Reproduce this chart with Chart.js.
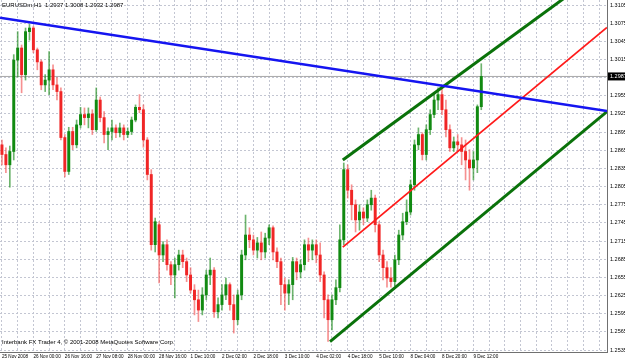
<!DOCTYPE html>
<html>
<head>
<meta charset="utf-8">
<script src="https://cdn.jsdelivr.net/npm/chart.js@4"></script>
<style>
  html, body { margin: 0; padding: 0; background: #fff; }
  #wrap { width: 625px; height: 362px; }
</style>
</head>
<body>
<div id="wrap"><canvas id="myChart"></canvas></div>
<script>
const symbolTitle = 'EURUSDm,H1  1.2937 1.3008 1.2932 1.2987';
const copyright = 'Interbank FX Trader 4, \u00a9 2001-2008 MetaQuotes Software Corp.';

// hours since 25 Nov 2008 (one candle per 2 hours of the H1 chart)
const hours = [
  0, 2, 4, 6, 8, 10, 12, 14, 16, 18, 20, 22, 24, 26, 28, 30, 32, 34, 36, 38,
  40, 42, 44, 46, 48, 50, 52, 54, 56, 58, 60, 62, 64, 66, 68, 70, 72, 74, 76, 78,
  80, 82, 84, 86, 88, 90, 92, 94, 96, 98, 100, 102, 104, 106, 108, 110, 112, 114, 116, 118,
  120, 122, 124, 126, 128, 130, 132, 134, 136, 138, 140, 142, 144, 146, 148, 150, 152, 154, 156, 158,
  160, 162, 164, 166, 168, 170, 172, 174, 176, 178, 180, 182, 184, 186, 188, 190, 192, 194, 196, 198,
  200, 202, 204, 206, 208, 210, 212, 214, 216, 218, 220, 222, 224, 226, 228, 230, 232, 234, 236, 238,
  240, 242, 244
];

const open = [
  1.2874,1.2858,1.2841,1.2863,1.3014,1.3034,1.2990,1.3061,1.3067,1.3031,
  1.3011,1.2973,1.2981,1.2998,1.2973,1.2962,1.2886,1.2830,1.2896,1.2874,
  1.2907,1.2924,1.2919,1.2925,1.2899,1.2948,1.2919,1.2891,1.2896,1.2902,
  1.2894,1.2902,1.2891,1.2896,1.2915,1.2936,1.2932,1.2882,1.2825,1.2709,
  1.2742,1.2692,1.2709,1.2676,1.2659,1.2676,1.2692,1.2681,1.2659,1.2634,
  1.2618,1.2601,1.2626,1.2659,1.2667,1.2598,1.2610,1.2626,1.2643,1.2610,
  1.2585,1.2626,1.2692,1.2725,1.2717,1.2700,1.2712,1.2697,1.2720,1.2737,
  1.2697,1.2681,1.2643,1.2629,1.2643,1.2681,1.2664,1.2676,1.2709,1.2700,
  1.2709,1.2692,1.2659,1.2618,1.2585,1.2618,1.2638,1.2717,1.2833,1.2799,
  1.2775,1.2750,1.2763,1.2753,1.2775,1.2786,1.2742,1.2692,1.2671,1.2654,
  1.2648,1.2684,1.2725,1.2747,1.2763,1.2808,1.2874,1.2891,1.2858,1.2899,
  1.2924,1.2948,1.2957,1.2932,1.2899,1.2869,1.2879,1.2874,1.2863,1.2849,
  1.2836,1.2849,1.2937
];
const high = [
  1.2882,1.2869,1.2872,1.3023,1.3061,1.3039,1.3067,1.3073,1.3070,1.3034,
  1.3014,1.2990,1.3028,1.3006,1.2985,1.2968,1.2891,1.2903,1.2903,1.2915,
  1.2936,1.2935,1.2935,1.2932,1.2968,1.2953,1.2929,1.2902,1.2915,1.2907,
  1.2910,1.2907,1.2902,1.2920,1.2940,1.2957,1.2940,1.2886,1.2833,1.2753,
  1.2747,1.2714,1.2717,1.2681,1.2687,1.2700,1.2700,1.2687,1.2671,1.2643,
  1.2634,1.2638,1.2667,1.2687,1.2671,1.2621,1.2643,1.2654,1.2646,1.2626,
  1.2634,1.2700,1.2758,1.2737,1.2725,1.2721,1.2730,1.2728,1.2742,1.2740,
  1.2704,1.2687,1.2654,1.2651,1.2688,1.2687,1.2684,1.2717,1.2720,1.2717,
  1.2717,1.2712,1.2664,1.2626,1.2626,1.2651,1.2742,1.2844,1.2841,1.2808,
  1.2783,1.2775,1.2770,1.2783,1.2799,1.2791,1.2747,1.2700,1.2681,1.2671,
  1.2692,1.2733,1.2761,1.2783,1.2816,1.2882,1.2902,1.2894,1.2907,1.2932,
  1.2957,1.2968,1.2968,1.2948,1.2907,1.2887,1.2891,1.2886,1.2882,1.2866,
  1.2863,1.2940,1.3008
];
const low = [
  1.2841,1.2828,1.2804,1.2849,1.2986,1.2960,1.2981,1.3047,1.3026,1.2998,
  1.2965,1.2962,1.2957,1.2965,1.2948,1.2882,1.2821,1.2825,1.2866,1.2869,
  1.2902,1.2907,1.2902,1.2891,1.2896,1.2912,1.2877,1.2866,1.2882,1.2886,
  1.2887,1.2882,1.2886,1.2891,1.2912,1.2927,1.2870,1.2816,1.2700,1.2697,
  1.2646,1.2681,1.2667,1.2643,1.2621,1.2667,1.2671,1.2648,1.2629,1.2593,
  1.2582,1.2593,1.2618,1.2643,1.2589,1.2588,1.2601,1.2618,1.2601,1.2563,
  1.2577,1.2618,1.2684,1.2704,1.2692,1.2687,1.2684,1.2687,1.2709,1.2684,
  1.2671,1.2610,1.2601,1.2610,1.2618,1.2651,1.2654,1.2667,1.2681,1.2684,
  1.2679,1.2648,1.2588,1.2549,1.2568,1.2610,1.2631,1.2709,1.2786,1.2750,
  1.2730,1.2733,1.2742,1.2747,1.2766,1.2730,1.2681,1.2651,1.2639,1.2639,
  1.2641,1.2676,1.2717,1.2742,1.2758,1.2799,1.2866,1.2849,1.2849,1.2891,
  1.2919,1.2932,1.2924,1.2887,1.2863,1.2863,1.2863,1.2841,1.2816,1.2799,
  1.2816,1.2828,1.2932
];
const close = [
  1.2858,1.2841,1.2863,1.3014,1.3034,1.2990,1.3061,1.3067,1.3031,1.3011,
  1.2973,1.2981,1.2998,1.2973,1.2962,1.2886,1.2830,1.2896,1.2874,1.2907,
  1.2924,1.2919,1.2925,1.2899,1.2948,1.2919,1.2891,1.2896,1.2902,1.2894,
  1.2902,1.2891,1.2896,1.2915,1.2936,1.2932,1.2882,1.2825,1.2709,1.2747,
  1.2692,1.2709,1.2676,1.2659,1.2676,1.2692,1.2681,1.2659,1.2634,1.2618,
  1.2601,1.2626,1.2659,1.2667,1.2598,1.2610,1.2626,1.2643,1.2610,1.2585,
  1.2626,1.2692,1.2725,1.2717,1.2700,1.2712,1.2697,1.2720,1.2737,1.2697,
  1.2681,1.2643,1.2629,1.2643,1.2681,1.2664,1.2676,1.2709,1.2700,1.2709,
  1.2692,1.2659,1.2618,1.2585,1.2618,1.2638,1.2717,1.2833,1.2799,1.2775,
  1.2750,1.2763,1.2753,1.2775,1.2786,1.2742,1.2692,1.2671,1.2654,1.2648,
  1.2684,1.2725,1.2747,1.2763,1.2808,1.2874,1.2891,1.2858,1.2899,1.2924,
  1.2948,1.2957,1.2932,1.2899,1.2869,1.2879,1.2874,1.2863,1.2849,1.2836,
  1.2849,1.2937,1.2987
];

// time axis labels (every 16 hours)
const labelHours = [0, 16, 32, 48, 64, 80, 96, 112, 128, 144, 160, 176, 192, 208, 224, 240];
const labelTexts = ['25 Nov 2008', '26 Nov 00:00', '26 Nov 16:00', '27 Nov 08:00', '28 Nov 00:00',
  '28 Nov 16:00', '1 Dec 10:00', '2 Dec 02:00', '2 Dec 18:00', '3 Dec 10:00', '4 Dec 02:00',
  '4 Dec 18:00', '5 Dec 10:00', '8 Dec 04:00', '8 Dec 20:00', '9 Dec 12:00'];

// price axis ticks
const priceTicks = [1.2535, 1.2565, 1.2595, 1.2625, 1.2655, 1.2685, 1.2715, 1.2745, 1.2775, 1.2805,
  1.2835, 1.2865, 1.2895, 1.2925, 1.2955, 1.2985, 1.3015, 1.3045, 1.3075, 1.3105];

// drawn objects: trend line and channel
const blueLineX = [-1, 308];
const blueLineY = [1.3084, 1.2930];
const midLineX = [173.5, 308];
const midLineY = [1.2705, 1.3068];
const upperLineX = [173.5, 308];
const upperLineY = [1.2849, 1.3168];
const lowerLineX = [167, 308];
const lowerLineY = [1.2549, 1.2929];

const lastPrice = 1.2987;

const bull = '#118a11';
const bear = '#f02626';
const smallFont = '"Liberation Sans Narrow", "Liberation Sans", sans-serif';

function pts(xs, ys) {
    return xs.map((x, i) => ({ x: x, y: ys[i] }));
}

const isUp = hours.map((h, i) => close[i] >= open[i]);

const overlayText = {
    id: 'overlayText',
    afterDraw(chart) {
        const ctx = chart.ctx;
        const area = chart.chartArea;
        const py = chart.scales.y.getPixelForValue(lastPrice);
        ctx.save();
        ctx.font = '6px ' + smallFont;
        ctx.fillStyle = '#000';
        ctx.textBaseline = 'top';
        ctx.fillText(symbolTitle, 2, 2);
        ctx.textBaseline = 'bottom';
        ctx.fillText(copyright, 2, area.bottom - 7);
        // current price marker on the axis
        ctx.fillRect(area.right + 1, py - 4, 17, 8);
        ctx.fillStyle = '#fff';
        ctx.textBaseline = 'middle';
        ctx.font = '5.5px ' + smallFont;
        ctx.fillText(lastPrice.toFixed(4), area.right + 3, py + 0.5);
        ctx.restore();
    }
};

function noPadding(scale) {
    scale.paddingTop = 0;
    scale.paddingBottom = 0;
    scale.paddingLeft = 0;
    scale.paddingRight = 0;
}

const ctx = document.getElementById('myChart').getContext('2d');
new Chart(ctx, {
    type: 'bar',
    data: {
        datasets: [
            {
                type: 'line', label: 'trend', order: 0,
                data: pts(blueLineX, blueLineY),
                borderColor: '#1515f0', borderWidth: 2.5, pointRadius: 0, clip: 0
            },
            {
                type: 'line', label: 'channel mid', order: 0,
                data: pts(midLineX, midLineY),
                borderColor: '#ff1a1a', borderWidth: 1.8, pointRadius: 0, clip: 0
            },
            {
                type: 'line', label: 'channel up', order: 0,
                data: pts(upperLineX, upperLineY),
                borderColor: '#0a720a', borderWidth: 3, pointRadius: 0, clip: 0
            },
            {
                type: 'line', label: 'channel low', order: 0,
                data: pts(lowerLineX, lowerLineY),
                borderColor: '#0a720a', borderWidth: 3, pointRadius: 0, clip: 0
            },
            {
                label: 'body', order: 1, grouped: false,
                data: hours.map((h, i) => ({ x: h, y: [open[i], close[i]] })),
                backgroundColor: isUp.map(u => u ? bull : bear),
                barThickness: 2.3
            },
            {
                label: 'wick', order: 2, grouped: false,
                data: hours.map((h, i) => ({ x: h, y: [low[i], high[i]] })),
                backgroundColor: isUp.map(u => u ? 'rgba(30,140,30,0.65)' : 'rgba(240,70,70,0.6)'),
                barThickness: 1
            },
            {
                type: 'line', label: 'price', order: 3,
                data: pts([-1, 308], [lastPrice, lastPrice]),
                borderColor: '#a8a8a8', borderWidth: 1, pointRadius: 0, clip: 0
            }
        ]
    },
    options: {
        responsive: true,
        maintainAspectRatio: false,
        animation: false,
        layout: { padding: 0 },
        plugins: {
            legend: { display: false },
            tooltip: { enabled: false }
        },
        scales: {
            x: {
                type: 'linear',
                min: -1,
                max: 308,
                offset: false,
                afterBuildTicks: (scale) => {
                    const t = [];
                    for (let h = 0; h <= 304; h += 8) t.push({ value: h });
                    scale.ticks = t;
                },
                afterFit: (scale) => { scale.height = 10; noPadding(scale); },
                grid: { color: '#c3c6d2', lineWidth: 1, drawTicks: false, offset: false },
                border: { color: '#707070', width: 1, dash: [2, 2] },
                ticks: {
                    autoSkip: false,
                    maxRotation: 0,
                    minRotation: 0,
                    align: 'start',
                    padding: 2,
                    color: '#000',
                    font: { family: smallFont, size: 4.6 },
                    callback: (value) => {
                        const i = labelHours.indexOf(value);
                        return i >= 0 ? labelTexts[i] : '';
                    }
                }
            },
            y: {
                type: 'linear',
                position: 'right',
                min: 1.25317,
                max: 1.31133,
                afterBuildTicks: (scale) => {
                    scale.ticks = priceTicks.map(v => ({ value: v }));
                },
                afterFit: (scale) => { scale.width = 18; noPadding(scale); },
                grid: { color: '#c3c6d2', lineWidth: 1, drawTicks: false },
                border: { color: '#707070', width: 1, dash: [2, 2] },
                ticks: {
                    autoSkip: false,
                    padding: 3,
                    color: '#000',
                    font: { family: smallFont, size: 5.5 },
                    callback: (value) => value.toFixed(4)
                }
            }
        }
    },
    plugins: [overlayText]
});
</script>
</body>
</html>
